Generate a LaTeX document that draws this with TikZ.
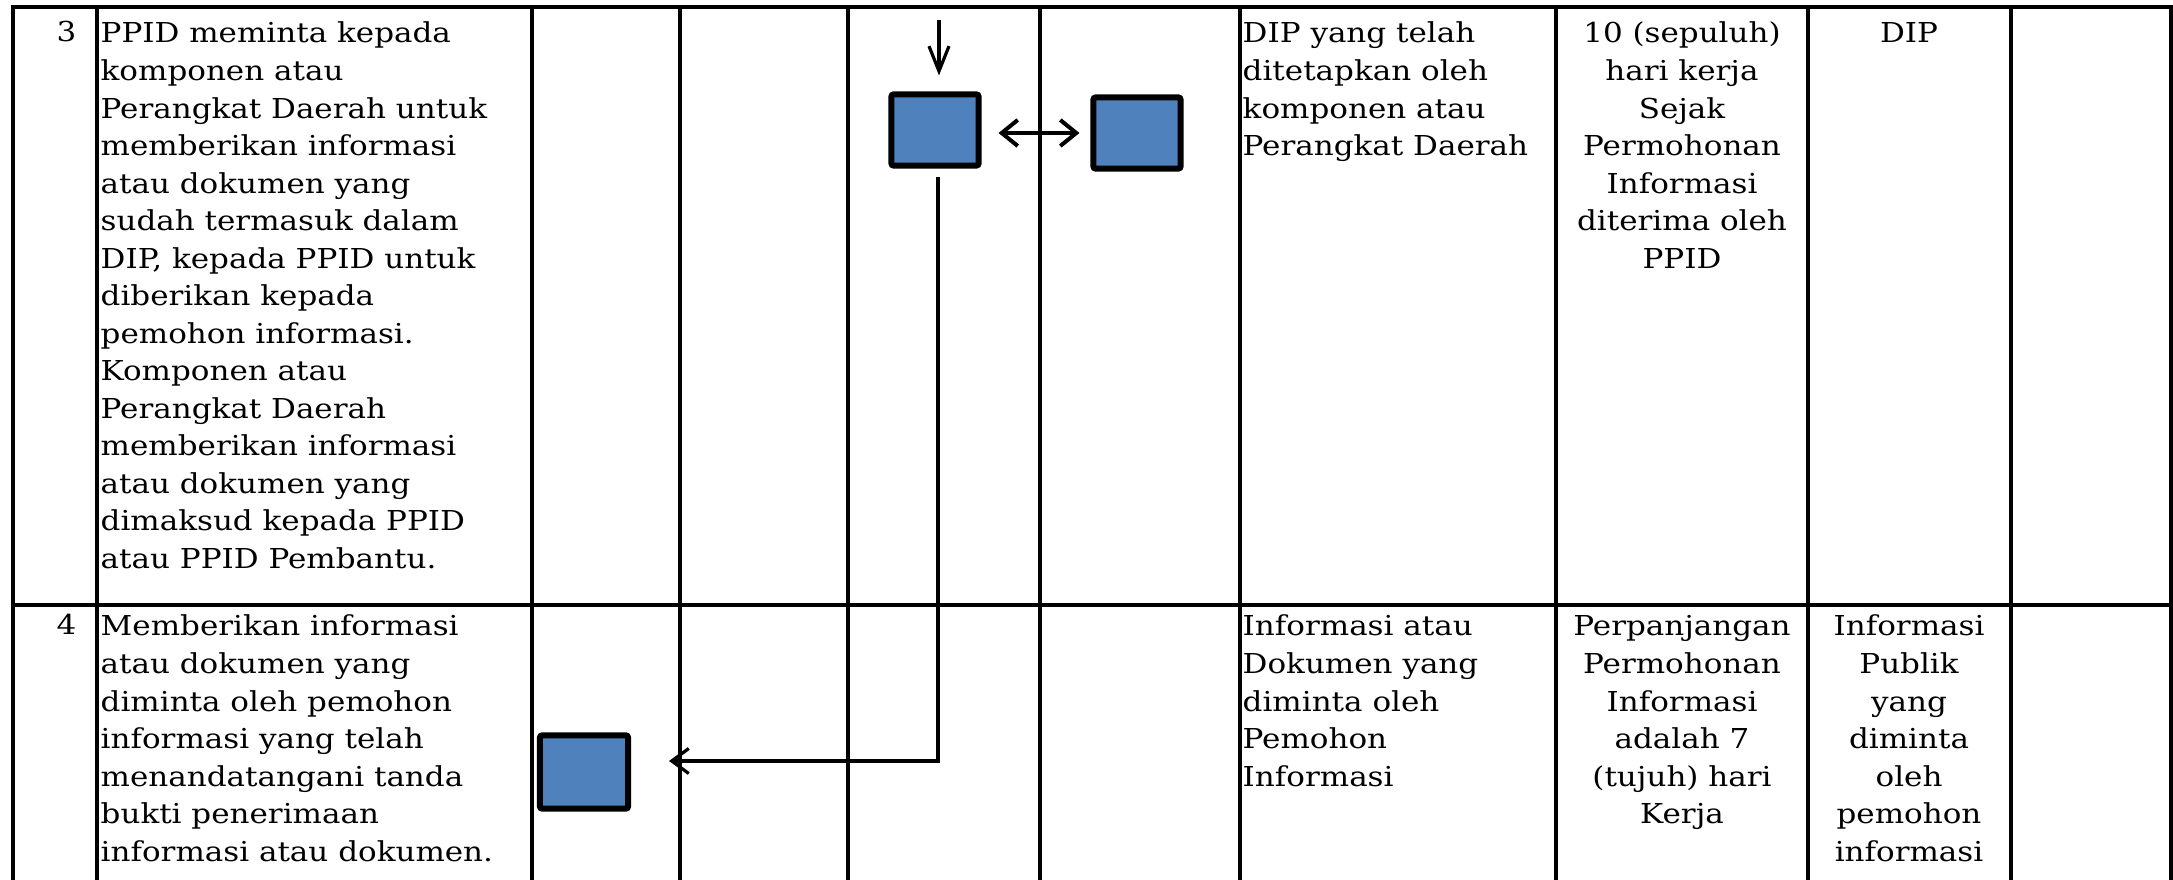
\documentclass[tikz,border=0pt]{standalone}
\usepackage{fontspec}
\setmainfont[FakeStretch=1.13]{DejaVu Serif}
\usetikzlibrary{arrows.meta}
\definecolor{boxblue}{RGB}{79,129,189}
\newcommand{\tfont}{\fontsize{7.8}{10.67}\selectfont}
\begin{document}
\begin{tikzpicture}[x=0.01cm,y=-0.01cm,
  grid/.style={line width=0.035cm, line cap=rect},
  flowbox/.style={draw=black, fill=boxblue, line width=0.06cm, rounded corners=0.02cm,
    minimum width=0.87cm, minimum height=0.71cm, inner sep=0pt},
  conn/.style={line width=0.032cm},
  txt/.style={font=\tfont, inner sep=0pt, anchor=north west, align=left},
  ctxt/.style={font=\tfont, inner sep=0pt, anchor=north, align=center},
  num/.style={font=\tfont, inner sep=0pt, anchor=base east}]
\useasboundingbox (0,0) rectangle (2173,880);
% table grid
\foreach \x in {13,97,532,680,848,1040,1240,1556,1808,2011,2171}
  \draw[grid] (\x,7) -- (\x,885);
\draw[grid] (13,7) -- (2171,7);
\draw[grid] (13,605) -- (2171,605);
% row 3
\node[num] (n3) at (77,42) {3};
\node[txt] (d3) at (100,16) {\strut PPID meminta kepada\\komponen atau\\Perangkat Daerah untuk\\memberikan informasi\\atau dokumen yang\\sudah termasuk dalam\\DIP, kepada PPID untuk\\diberikan kepada\\pemohon informasi.\\Komponen atau\\Perangkat Daerah\\memberikan informasi\\atau dokumen yang\\dimaksud kepada PPID\\atau PPID Pembantu.};
\node[txt] (k3) at (1242,16) {\strut DIP yang telah\\ditetapkan oleh\\komponen atau\\Perangkat Daerah};
\node[ctxt] (w3) at (1682,16) {\strut 10 (sepuluh)\\hari kerja\\Sejak\\Permohonan\\Informasi\\diterima oleh\\PPID};
\node[ctxt] (o3) at (1909,16) {\strut DIP};
% row 4
\node[num] (n4) at (77,635) {4};
\node[txt] (d4) at (100,609) {\strut Memberikan informasi\\atau dokumen yang\\diminta oleh pemohon\\informasi yang telah\\menandatangani tanda\\bukti penerimaan\\informasi atau dokumen.};
\node[txt] (k4) at (1242,609) {\strut Informasi atau\\Dokumen yang\\diminta oleh\\Pemohon\\Informasi};
\node[ctxt] (w4) at (1682,609) {\strut Perpanjangan\\Permohonan\\Informasi\\adalah 7\\(tujuh) hari\\Kerja};
\node[ctxt] (o4) at (1909,609) {\strut Informasi\\Publik\\yang\\diminta\\oleh\\pemohon\\informasi};
% flow boxes
\node[flowbox] (b1) at (935,130) {};
\node[flowbox] (b2) at (1137,133) {};
\node[flowbox, minimum width=0.88cm, minimum height=0.73cm] (b3) at (584,772) {};
% connectors
\coordinate (start) at (939,20);
\coordinate (turn) at (938,761);
\draw[conn, -{Straight Barb[length=0.25cm,width=0.2cm]}, shorten >=0.16cm] (start) -- (start |- b1.north);
\draw[conn, line width=0.04cm, {Straight Barb[length=0.16cm,width=0.26cm]}-{Straight Barb[length=0.16cm,width=0.26cm]}, shorten <=0.17cm, shorten >=0.11cm] (b1.east |- b2.west) -- (b2.west);
\draw[conn, -{Straight Barb[length=0.17cm,width=0.25cm]}, shorten <=0.08cm, shorten >=0.38cm] (b1.south -| turn) -- (turn) -- (b3.east |- turn);
\end{tikzpicture}
\end{document}
